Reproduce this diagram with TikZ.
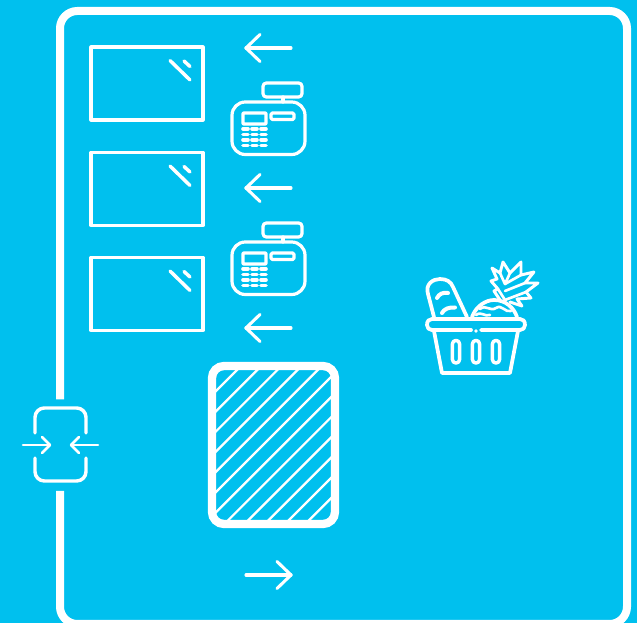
\documentclass[tikz,border=0pt]{standalone}
\definecolor{bgblue}{RGB}{0,192,238}
\tikzset{
  ink/.style={draw=white,line width=2.4pt,line cap=round,line join=round},
  pics/windowpane/.style={code={
    \draw[draw=white,line width=2.3pt,line join=round] (0,0) rectangle (112,73);
    \draw[ink,line width=2.6pt] (79,13.5) -- (99,33);
    \draw[ink,line width=2.6pt] (93,14) -- (99,19.5);
  }},
  pics/register/.style={code={
    \draw[ink,rounded corners=2.5] (32,1) rectangle (71,15);
    \draw[ink] (52,15) -- (52,20);
    \draw[ink,rounded corners=10] (1,20) rectangle (74,72.5);
    \draw[ink,rounded corners=0.5] (12,31) rectangle (35,42);
    \draw[ink,rounded corners=1] (40,31) rectangle (63,37.5);
    \foreach \r in {47,52.5,58,63.5}{
      \draw[ink,line width=2.7pt] (12,\r) -- (17,\r);
      \draw[ink,line width=2.7pt] (21,\r) -- (26,\r);
      \draw[ink,line width=2.7pt] (30,\r) -- (35,\r);
    }
  }},
  pics/leftarrow/.style={code={
    \draw[ink,line width=2.3pt] (14,-13.5) -- (0,0) -- (14,13.5);
    \draw[ink,line width=2.3pt] (0,0) -- (45,0);
  }}
}
\begin{document}
\begin{tikzpicture}[x=0.75pt,y=-0.75pt]
\useasboundingbox (0,0) rectangle (637,623);
\fill[bgblue] (0,0) rectangle (637,623);
% frame
\coordinate (gapTop) at (60,399.5);
\coordinate (gapBot) at (60,491);
\draw[draw=white,line width=6pt,rounded corners=13] (gapTop) -- (60,11) -- (627,11) -- (627,624) -- (60,624) -- (gapBot);
% windows
\path (91,47) pic {windowpane};
\path (91,152.5) pic {windowpane};
\path (91,257.5) pic {windowpane};
% arrows
\path (246,48) pic {leftarrow};
\path (246,188) pic {leftarrow};
\path (246,328) pic {leftarrow};
\path (291,575) pic[xscale=-1] {leftarrow};
% registers
\path (231,82) pic {register};
\path (231,222) pic {register};
% conveyor
\begin{scope}
\clip[rounded corners=8] (212,366) rectangle (335,524);
\foreach \s in {607,627.2,647.4,667.6,687.8,708,728.2,748.4,768.6,788.8,809,829.2}{
  \draw[draw=white,line width=1.7pt] (200,\s-200) -- (345,\s-345);
}
\end{scope}
\draw[draw=white,line width=6.2pt,rounded corners=9] (212,366) rectangle (335,524);
% door icon
\draw[ink,line width=2.6pt,rounded corners=7] (35,433) -- (35,408) -- (86,408) -- (86,433);
\draw[ink,line width=2.6pt,rounded corners=7] (35,458) -- (35,481) -- (86,481) -- (86,458);
\draw[ink,line width=1.9pt] (23,445) -- (50,445);
\draw[ink,line width=1.9pt] (42,437) -- (50,445) -- (42,453);
\draw[ink,line width=1.9pt] (98,445) -- (71,445);
\draw[ink,line width=1.9pt] (79,437) -- (71,445) -- (79,453);
% basket: baguette
\draw[ink,line width=2.8pt] (434,317) -- (428,294) .. controls (425,284) and (433,279) .. (440,279) .. controls (447,279) and (451,282) .. (453,287) -- (467,317);
\draw[ink,line width=3pt] (437,298) .. controls (439,294) and (443,292) .. (448,293);
\draw[ink,line width=3pt] (442,313) .. controls (444,309) and (449,307) .. (455,307.5);
% basket: pineapple
\draw[ink,line width=2.8pt] (472,317) .. controls (476,306) and (486,300) .. (494,300) .. controls (506,300) and (514,308) .. (517,317);
\draw[ink,line width=2pt] (480,309) .. controls (486,304) and (490,312) .. (496,308) .. controls (502,304) and (505,313) .. (511,311);
\draw[ink,line width=2pt] (476,315) .. controls (482,311) and (484,317) .. (490,315);
\draw[ink,line width=2.2pt] (500,300) -- (494,291) -- (498,289) -- (491,281) -- (497,279) -- (492,268) -- (500,273) -- (503,262) -- (510,273) -- (521,262) -- (521,275) -- (534,272) -- (525,283) -- (538,283) -- (526,292) -- (531,298) -- (517,299) -- (522,306) -- (510,302);
\draw[ink,line width=2pt] (498,289) -- (505,300) -- (526,292);
\draw[ink,line width=2pt] (505,291) -- (525,283);
\draw[ink,line width=2pt] (500,273) -- (505,284) -- (510,273);
\draw[ink,line width=2pt] (505,284) -- (521,275);
% basket: body
\draw[ink,line width=2.8pt] (432,330) .. controls (429,330) and (427,328) .. (427,325) .. controls (427,321) and (429,319) .. (432,319) -- (520,319) .. controls (523,319) and (525,321) .. (525,325) .. controls (525,328) and (523,330) .. (520,330) -- (481,330);
\draw[ink,line width=2.8pt] (432,330) -- (471,330);
\fill[white] (476,331) circle (1.9);
\draw[ink,line width=2.8pt] (434,331) -- (442,373) -- (510,373) -- (518,331);
\foreach \x in {456,476,496}{
  \draw[ink,line width=2.6pt] (\x-3.6,344) arc[start angle=180,end angle=360,radius=3.6] -- (\x+3.6,359.5) arc[start angle=0,end angle=180,radius=3.6] -- cycle;
}
\end{tikzpicture}
\end{document}
